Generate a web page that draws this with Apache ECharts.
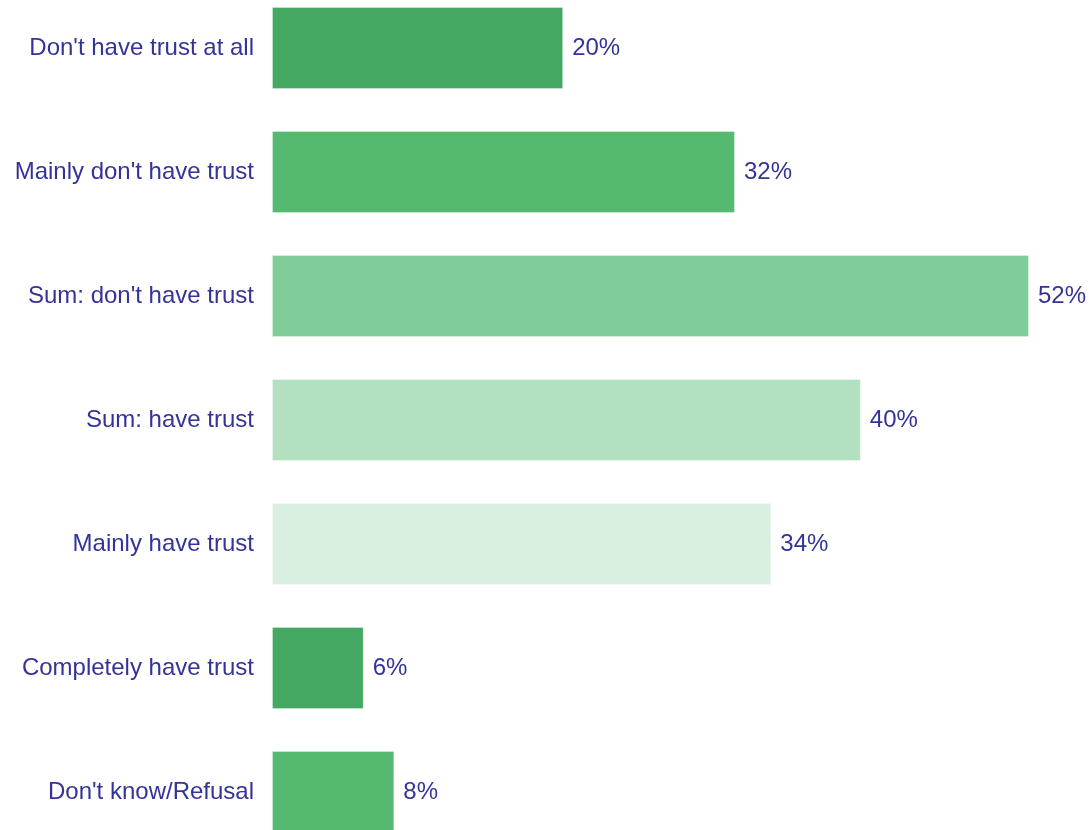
<!DOCTYPE html>
<html>
<head>
<meta charset="utf-8">
<script src="https://cdn.jsdelivr.net/npm/echarts@6/dist/echarts.min.js"></script>
<style>
  html, body { margin: 0; padding: 0; background: #fff; overflow: hidden; }
  body { width: 1090px; height: 830px; position: relative; }
  /* chart is a bit taller than the window: last bar runs off the bottom like the original */
  #chart { position: absolute; left: 0; top: -14px; width: 1090px; height: 868px; }
</style>
</head>
<body>
<div id="chart"></div>
<script>
// categories, top to bottom
var categories = [
  "Don't have trust at all",
  "Mainly don't have trust",
  "Sum: don't have trust",
  "Sum: have trust",
  "Mainly have trust",
  "Completely have trust",
  "Don't know/Refusal"
];
// percent values
var values = [20.0, 31.8, 52.0, 40.45, 34.3, 6.3, 8.4];
var barColors = ['#45a862', '#55ba70', '#80cd98', '#b2e0c0', '#d9f0e1', '#45a862', '#55ba70'];

var textColor = '#333399';
var fontFamily = 'Liberation Sans, Arial, sans-serif';

var chart = echarts.init(document.getElementById('chart'));

var option = {
  animation: false,
  grid: {
    left: 272,
    right: 61,
    top: 0,
    bottom: 0,
    containLabel: false
  },
  xAxis: {
    type: 'value',
    min: 0,
    max: 52,
    show: false
  },
  yAxis: {
    type: 'category',
    inverse: true,
    data: categories,
    axisLine: { show: false },
    axisTick: { show: false },
    splitLine: { show: false },
    axisLabel: {
      margin: 18,
      color: textColor,
      fontSize: 24,
      fontFamily: fontFamily
    }
  },
  series: [{
    type: 'bar',
    barWidth: 82,
    data: values.map(function (v, i) {
      return { value: v, itemStyle: { color: barColors[i] } };
    }),
    itemStyle: {
      borderColor: 'rgba(255,255,255,0.3)',
      borderWidth: 1
    },
    label: {
      show: true,
      position: 'right',
      distance: 9,
      color: textColor,
      fontSize: 24,
      fontFamily: fontFamily,
      formatter: function (p) {
        return Math.round(p.value) + '%';
      }
    }
  }]
};

chart.setOption(option);
</script>
</body>
</html>
